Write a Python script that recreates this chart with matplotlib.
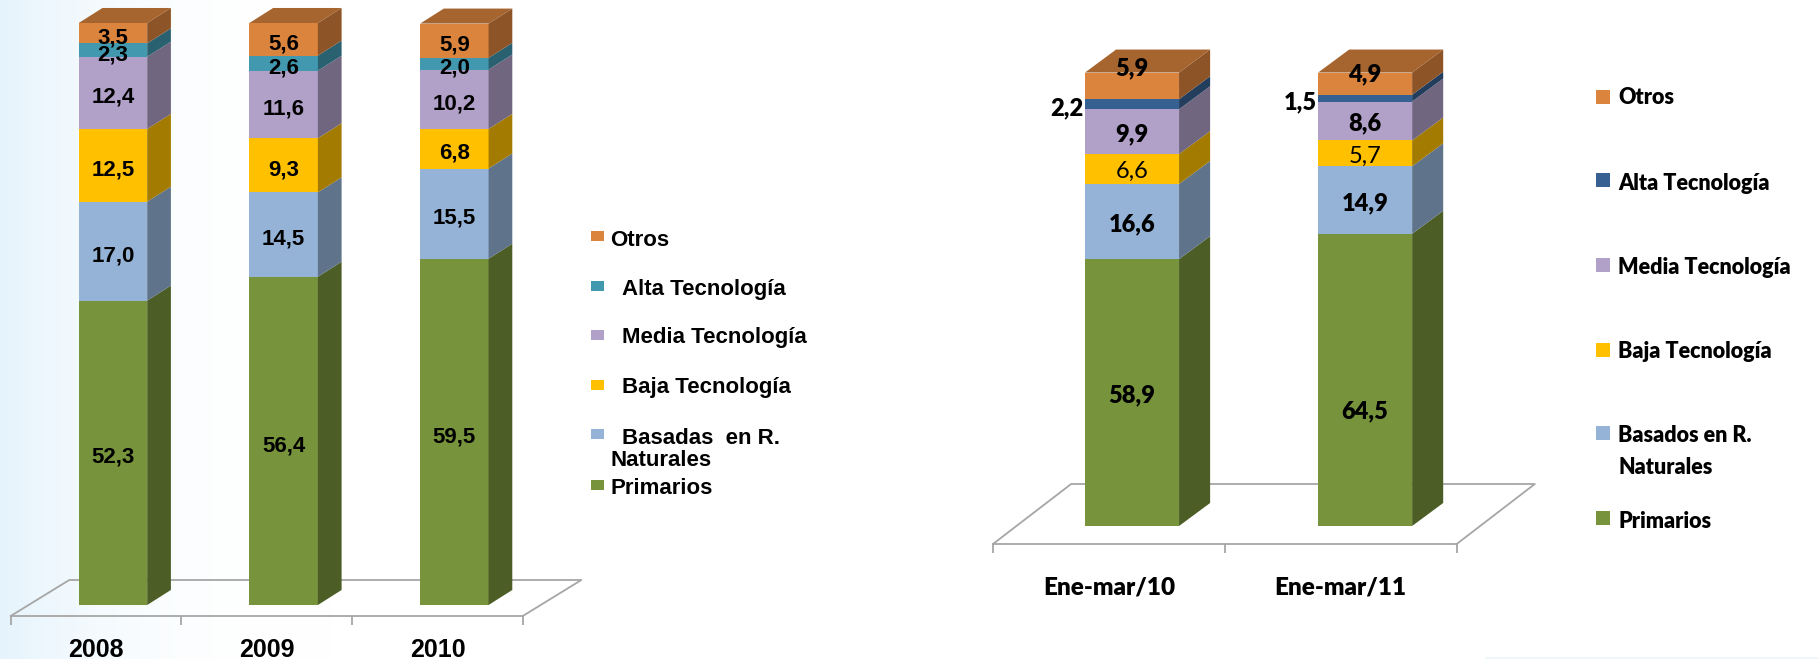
import numpy as np
import matplotlib
matplotlib.use("Agg")
import matplotlib.pyplot as plt
from matplotlib.patches import Rectangle

W, H = 1818, 659
LEFT_FONT = "Liberation Sans"
RIGHT_FONT = "Lato"

# left chart data
years = ["2008", "2009", "2010"]
primarios_a = [52.3, 56.4, 59.5]
naturales_a = [17.0, 14.5, 15.5]
baja_a = [12.5, 9.3, 6.8]
media_a = [12.4, 11.6, 10.2]
alta_a = [2.3, 2.6, 2.0]
otros_a = [3.5, 5.6, 5.9]

# right chart data
periods = ["Ene-mar/10", "Ene-mar/11"]
primarios_b = [58.9, 64.5]
naturales_b = [16.6, 14.9]
baja_b = [6.6, 5.7]
media_b = [9.9, 8.6]
alta_b = [2.2, 1.5]
otros_b = [5.9, 4.9]

GREEN = "#77933C"
BLUE = "#95B3D7"
GOLD = "#FFC000"
PURPLE = "#B1A0C7"
TEAL = "#4198AF"
NAVY = "#366092"
ORANGE = "#DB843D"
FLOOR = "#A6A6A6"


def px_axes(fig, x0, x1, y_top, y_bottom):
    # axes placed by reference pixels, y measured from the top
    return fig.add_axes([x0 / W, 1 - y_bottom / H, (x1 - x0) / W, (y_bottom - y_top) / H])


def shade(color, k):
    return tuple(c * k for c in matplotlib.colors.to_rgb(color))


def draw_bars(ax, xs, width, series, colors, dx, dy):
    bottoms = np.zeros(len(xs))
    for vals, col in zip(series, colors):
        vals = np.array(vals)
        ax.bar(xs, vals, width, bottom=bottoms, color=col, zorder=3, clip_on=False)
        for x, b, v in zip(xs, bottoms, vals):
            xr = x + width / 2
            ax.fill([xr, xr + dx, xr + dx, xr], [b, b + dy, b + v + dy, b + v],
                    color=shade(col, 0.64), lw=0, zorder=3, clip_on=False)
        bottoms = bottoms + vals
    # top face takes the colour of the last series
    for x, b in zip(xs, bottoms):
        xl, xr = x - width / 2, x + width / 2
        ax.fill([xl, xr, xr + dx, xl + dx], [b, b, b + dy, b + dy],
                color=shade(colors[-1], 0.76), lw=0, zorder=3, clip_on=False)


def draw_floor(ax, x0, x1, shift, y_front, y_back):
    ax.plot([x0, x0 + shift, x1 + shift, x1], [y_front, y_back, y_back, y_front],
            color=FLOOR, lw=1.3, zorder=1, clip_on=False)


def setup_axes(ax, labels, font, size, pad, ymin, weight="bold"):
    n = len(labels)
    ax.patch.set_alpha(0)
    for s in ["top", "left", "right"]:
        ax.spines[s].set_visible(False)
    ax.spines["bottom"].set_color(FLOOR)
    ax.spines["bottom"].set_linewidth(1.3)
    ax.set_yticks([])
    ax.set_xticks(range(n))
    ax.set_xticklabels(labels, family=font, fontweight=weight, fontsize=size)
    ax.set_xticks(np.arange(n + 1) - 0.5, minor=True)
    ax.tick_params(axis="x", which="major", length=0, pad=pad)
    ax.tick_params(axis="x", which="minor", length=6.5, width=1.3, color=FLOOR)
    ax.set_xlim(-0.5, n - 0.5)
    ax.set_ylim(ymin, 100)


fig = plt.figure(figsize=(W / 100, H / 100), dpi=100)

# page background and legends, in reference pixels
bg = fig.add_axes([0, 0, 1, 1], zorder=0)
fade = np.clip(1 - np.linspace(0, W, 700) / 330, 0, 1) ** 2.5
grad = np.ones((2, 700, 3))
grad[:, :, 0] = 1 - 0.10 * fade
grad[:, :, 1] = 1 - 0.045 * fade
grad[:, :, 2] = 1 - 0.01 * fade
bg.imshow(grad, extent=[0, W, H, 0], aspect="auto", zorder=0)
bg.add_patch(Rectangle((1485, 657), 333, 2, color="#EEF7FC", lw=0, zorder=1))
bg.set_xlim(0, W)
bg.set_ylim(H, 0)
bg.axis("off")

# left chart
ax1 = px_axes(fig, 10.7, 522.8, 23, 616)
ax1.set_zorder(1)
ymin1 = -11 / 5.82
setup_axes(ax1, years, LEFT_FONT, 18, 15.5, ymin1)
xs1 = np.arange(3) + 0.099
series1 = [primarios_a, naturales_a, baja_a, media_a, alta_a, otros_a]
colors1 = [GREEN, BLUE, GOLD, PURPLE, TEAL, ORANGE]
draw_bars(ax1, xs1, 0.401, series1, colors1, 0.139, 2.58)
draw_floor(ax1, -0.5, 2.5, 0.343, ymin1, 25 / 5.82)

bottoms = np.zeros(3)
for vals in series1:
    for x, b, v in zip(xs1, bottoms, vals):
        ax1.text(x, b + v / 2 - 0.8, f"{v:.1f}".replace(".", ","), ha="center", va="center",
                 family=LEFT_FONT, fontweight="bold", fontsize=16, zorder=5)
    bottoms = bottoms + np.array(vals)

# right chart
ax2 = px_axes(fig, 993, 1456.7, 73, 544)
ax2.set_zorder(1)
ymin2 = -18 / 4.53
setup_axes(ax2, periods, RIGHT_FONT, 17.5, 23.5, ymin2, weight="heavy")
xs2 = np.array([0.0997, 1.105])
width2 = 0.4055
series2 = [primarios_b, naturales_b, baja_b, media_b, alta_b, otros_b]
colors2 = [GREEN, BLUE, GOLD, PURPLE, NAVY, ORANGE]
draw_bars(ax2, xs2, width2, series2, colors2, 0.134, 23 / 4.53)
draw_floor(ax2, -0.5, 1.5, 0.337, ymin2, 42 / 4.53)

# (dx, dy) label nudges in points, from the reference
nudges = {(5, 0): (0, 12.5), (5, 1): (0, 7), (0, 1): (0, -22.5)}
bottoms = np.zeros(2)
for k, vals in enumerate(series2):
    for i, (x, b, v) in enumerate(zip(xs2, bottoms, vals)):
        txt = f"{v:.1f}".replace(".", ",")
        if k == 4:
            ax2.annotate(txt, (x - width2 / 2, b + v / 2), xytext=(-1, -3), textcoords="offset points",
                         ha="right", va="center", family=RIGHT_FONT, fontweight="heavy", fontsize=17, zorder=5)
        else:
            off = nudges.get((k, i), (0, -2))
            weight = "normal" if k == 2 else "heavy"
            ax2.annotate(txt, (x, b + v / 2), xytext=off, textcoords="offset points",
                         ha="center", va="center", family=RIGHT_FONT, fontweight=weight, fontsize=17, zorder=5)
    bottoms = bottoms + np.array(vals)

# left legend
legend_a_names = ["Otros", "Alta Tecnología", "Media Tecnología", "Baja Tecnología", "Basadas  en R.", "Primarios"]
legend_a_box_y = [236, 286, 335, 385, 434, 485]
legend_a_text_x = [610, 622, 622, 622, 622, 610]
legend_a_text_y = [240, 289, 338, 388, 439, 488]
for name, col, by, tx, ty in zip(legend_a_names, colors1[::-1], legend_a_box_y, legend_a_text_x, legend_a_text_y):
    bg.add_patch(Rectangle((591, by - 5), 13, 10, color=col, lw=0, zorder=2))
    bg.text(tx, ty, name, family=LEFT_FONT, fontweight="bold", fontsize=16, va="center", ha="left", zorder=2)
bg.text(610, 460, "Naturales", family=LEFT_FONT, fontweight="bold", fontsize=16, va="center", ha="left", zorder=2)

# right legend
legend_b_names = ["Otros", "Alta Tecnología", "Media Tecnología", "Baja Tecnología", "Basados en R.", "Primarios"]
legend_b_box_y = [97, 180, 265, 350, 433, 518]
legend_b_text_y = [98, 183, 267, 352, 436, 521]
for name, col, by, ty in zip(legend_b_names, colors2[::-1], legend_b_box_y, legend_b_text_y):
    bg.add_patch(Rectangle((1596, by - 7), 14, 14, color=col, lw=0, zorder=2))
    bg.text(1618, ty, name, family=RIGHT_FONT, fontweight="heavy", fontsize=15.5, va="center", ha="left", zorder=2)
bg.text(1618, 468, "Naturales", family=RIGHT_FONT, fontweight="heavy", fontsize=15.5, va="center", ha="left", zorder=2)

fig.savefig("out.png", dpi=100)
